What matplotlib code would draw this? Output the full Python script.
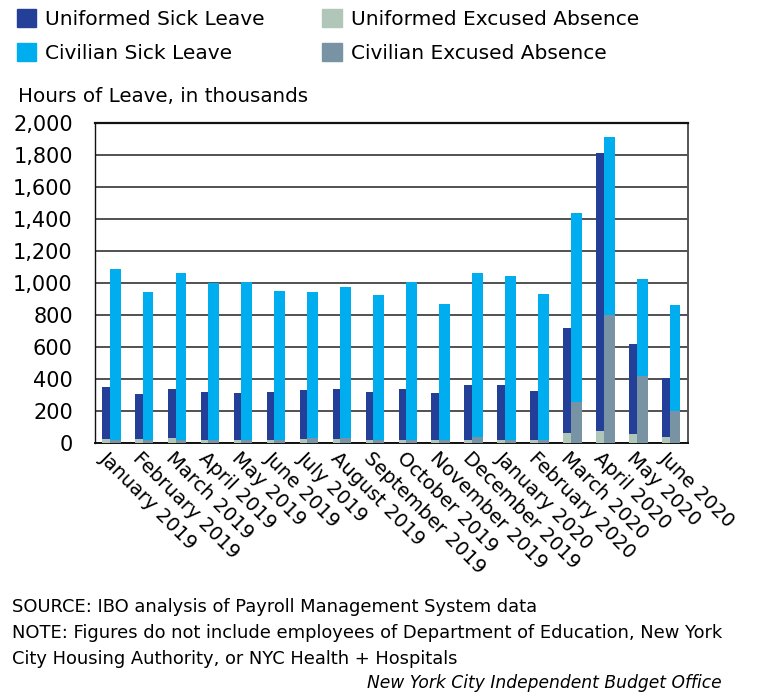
# Hours of leave by month, uniformed vs civilian
import numpy as np
import matplotlib.pyplot as plt
from matplotlib.patches import Patch

plt.rcParams['font.family'] = ['DejaVu Sans']

months = ["January 2019", "February 2019", "March 2019", "April 2019", "May 2019",
          "June 2019", "July 2019", "August 2019", "September 2019", "October 2019",
          "November 2019", "December 2019", "January 2020", "February 2020",
          "March 2020", "April 2020", "May 2020", "June 2020"]

# hours of leave, in thousands
uniformed_excused = [20, 20, 27, 18, 18, 18, 20, 20, 18, 18, 18, 18, 18, 18, 61, 72, 53, 38]
uniformed_sick = [331, 287, 310, 300, 294, 298, 309, 315, 302, 321, 294, 342, 346, 304, 654, 1744, 564, 368]
civilian_excused = [18, 18, 18, 18, 18, 18, 29, 27, 18, 18, 18, 36, 18, 18, 257, 800, 417, 201]
civilian_sick = [1070, 926, 1041, 984, 990, 930, 917, 950, 905, 989, 850, 1023, 1026, 911, 1180, 1112, 610, 659]

c_usick = '#233f98'
c_csick = '#00aeef'
c_uexc = '#afc6b9'
c_cexc = '#7893a3'

x = np.arange(len(months))

fig = plt.figure(figsize=(7.66, 6.96), dpi=100)
ax = fig.add_axes([0.124, 0.364, 0.774, 0.459])

ax.bar(x - 0.17, uniformed_excused, width=0.23, color=c_uexc, zorder=3)
ax.bar(x - 0.17, uniformed_sick, width=0.23, bottom=uniformed_excused, color=c_usick, zorder=3)
ax.bar(x + 0.11, civilian_excused, width=0.33, color=c_cexc, zorder=3)
ax.bar(x + 0.11, civilian_sick, width=0.33, bottom=civilian_excused, color=c_csick, zorder=3)

ax.set_xlim(-0.5, len(months) - 0.5)
ax.set_ylim(0, 2000)
ax.set_yticks(range(0, 2001, 200))
ax.set_yticklabels([f"{v:,}" for v in range(0, 2001, 200)], fontsize=15)
ax.yaxis.grid(True, color='#333333', linewidth=1.2, zorder=0)

ax.set_xticks(x - 0.05)
ax.set_xticklabels(months, rotation=-45, ha='left', va='top',
                   rotation_mode='anchor', fontsize=14)
ax.tick_params(axis='both', length=0)
ax.tick_params(axis='x', pad=4)
ax.tick_params(axis='y', pad=16)

for side in ['top', 'left', 'bottom']:
    ax.spines[side].set_color('#111111')
ax.spines['top'].set_linewidth(1.6)
ax.spines['left'].set_linewidth(1.0)
ax.spines['bottom'].set_linewidth(1.4)
ax.spines['right'].set_color('#555555')
ax.spines['right'].set_linewidth(1.4)

handles = [Patch(color=c_usick), Patch(color=c_csick), Patch(color=c_uexc), Patch(color=c_cexc)]
labels = ["Uniformed Sick Leave", "Civilian Sick Leave",
          "Uniformed Excused Absence", "Civilian Excused Absence"]
fig.legend(handles, labels, ncol=2, loc='upper left', bbox_to_anchor=(0.012, 0.998),
           frameon=False, fontsize=14.5, handlelength=0.95, handleheight=0.95,
           handletextpad=0.45, columnspacing=2.85, labelspacing=0.7, borderaxespad=0)

fig.text(18 / 766, 1 - 97 / 696, "Hours of Leave, in thousands", fontsize=14.3, va='center')

foot = 12.9
fig.text(12 / 766, 1 - 607 / 696, "SOURCE: IBO analysis of Payroll Management System data",
         fontsize=foot, va='center')
fig.text(12 / 766, 1 - 633 / 696,
         "NOTE: Figures do not include employees of Department of Education, New York",
         fontsize=foot, va='center')
fig.text(12 / 766, 1 - 659 / 696, "City Housing Authority, or NYC Health + Hospitals",
         fontsize=foot, va='center')
fig.text(722 / 766, 1 - 683 / 696, "New York City Independent Budget Office",
         fontsize=12.3, va='center', ha='right', style='italic')

fig.savefig('out.png', dpi=100)
